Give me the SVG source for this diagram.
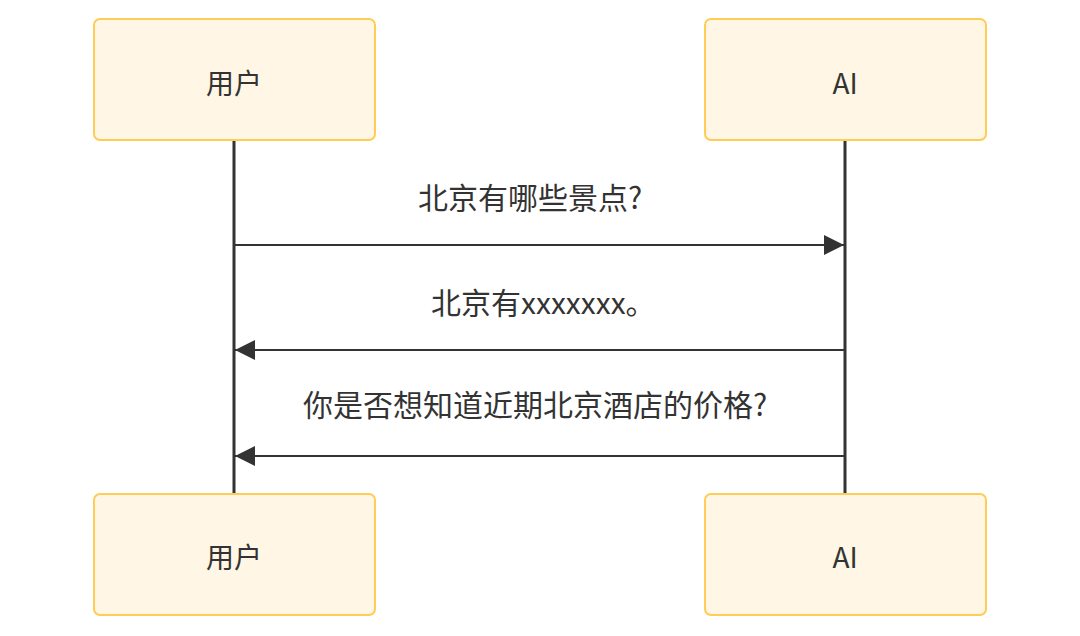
<svg xmlns="http://www.w3.org/2000/svg" width="1080" height="636" viewBox="0 0 1080 636">
<style>
.box{fill:#FFF6E5;stroke:#FFCD56;stroke-width:2}
.lbl{font-family:"Noto Sans CJK SC","Noto Sans",sans-serif;font-size:28px;fill:#333333}
.msgl{font-family:"Noto Sans CJK SC","Noto Sans",sans-serif;font-size:30px;fill:#333333}
.life{stroke:#333333;stroke-width:3}
.msg{stroke:#333333;stroke-width:2;fill:none}
</style>
<defs>
<marker id="ah" viewBox="0 0 20 20" refX="20" refY="10" markerWidth="20" markerHeight="20" markerUnits="userSpaceOnUse" orient="auto">
<path d="M0,0 L20,10 L0,20 Z" fill="#333333"/>
</marker>
</defs>
<rect width="1080" height="636" fill="#FFFFFF"/>
<g id="connectors">
<line class="life" x1="234" y1="140" x2="234" y2="493"/>
<line class="life" x1="845" y1="140" x2="845" y2="493"/>
<line class="msg" x1="234" y1="245" x2="844" y2="245" marker-end="url(#ah)"/>
<line class="msg" x1="845" y1="350" x2="235" y2="350" marker-end="url(#ah)"/>
<line class="msg" x1="845" y1="456" x2="235" y2="456" marker-end="url(#ah)"/>
<text class="msgl" x="418" y="209">北京有哪些景点?</text>
<text class="msgl" x="431" y="314">北京有xxxxxxx。</text>
<text class="msgl" x="303" y="416">你是否想知道近期北京酒店的价格?</text>
</g>
<g id="user-top">
<rect class="box" x="94" y="19" width="281" height="121" rx="6"/>
<text class="lbl" x="234" y="82" text-anchor="middle" dominant-baseline="central">用户</text>
</g>
<g id="ai-top">
<rect class="box" x="705" y="19" width="281" height="121" rx="6"/>
<text class="lbl" x="845" y="82" text-anchor="middle" dominant-baseline="central">AI</text>
</g>
<g id="user-bottom">
<rect class="box" x="94" y="494" width="281" height="121" rx="6"/>
<text class="lbl" x="234" y="556" text-anchor="middle" dominant-baseline="central">用户</text>
</g>
<g id="ai-bottom">
<rect class="box" x="705" y="494" width="281" height="121" rx="6"/>
<text class="lbl" x="845" y="556" text-anchor="middle" dominant-baseline="central">AI</text>
</g>
</svg>
